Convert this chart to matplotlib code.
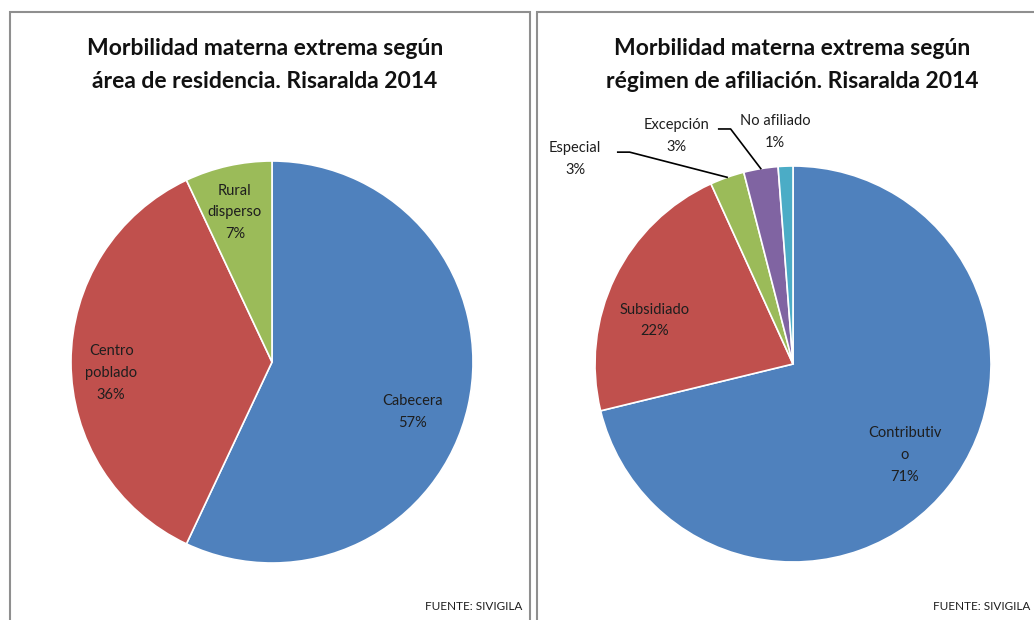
import numpy as np
import matplotlib
matplotlib.use("Agg")
from matplotlib import pyplot as plt
from matplotlib.patches import Rectangle

# data
area_labels = ["Cabecera", "Centro\npoblado", "Rural\ndisperso"]
area_values = [57, 36, 7]

regimen_labels = ["Contributiv\no", "Subsidiado", "Especial", "Excepción", "No afiliado"]
regimen_values = [178, 55, 7, 7, 3]

title_left = "Morbilidad materna extrema según\nárea de residencia. Risaralda 2014"
title_right = "Morbilidad materna extrema según\nrégimen de afiliación. Risaralda 2014"
source_text = "FUENTE: SIVIGILA"

# layout: label anchor points in pie-radius units
area_label_pos = [(0.70, -0.25), (-0.80, -0.055), (-0.185, 0.745)]
regimen_label_pos = [(0.565, -0.46), (-0.70, 0.22), (-1.10, 1.035),
                     (-0.59, 1.152), (-0.09, 1.172)]
leader_off = {2: 0.215, 3: 0.215}

COLORS = ["#4F81BD", "#C0504D", "#9BBB59", "#8064A2", "#4BACC6"]
TXT = "#1e1e1e"
W, H = 1034, 620
LBL = dict(fontsize=10.5, color=TXT, linespacing=1.7, ha="center", va="center")

plt.rcParams["font.family"] = ["Lato", "DejaVu Sans"]
fig = plt.figure(figsize=(W / 100, H / 100), dpi=100)

# panel frames (pixel coords -> figure fraction)
def px_rect(x0, y0, x1, y1):
    return Rectangle((x0 / W, 1 - y1 / H), (x1 - x0) / W, (y1 - y0) / H,
                     transform=fig.transFigure, fill=False,
                     edgecolor="#8f8f8f", lw=1.5)

fig.patches.append(px_rect(10, 12, 530, 640))
fig.patches.append(px_rect(537, 12, 1060, 640))


def pie_axes(cx, cy, r):
    return fig.add_axes([(cx - r) / W, 1 - (cy + r) / H, 2 * r / W, 2 * r / H])


def draw_pie(ax, values):
    wedges, _ = ax.pie(values, colors=COLORS[:len(values)], startangle=90,
                       counterclock=False, radius=1,
                       wedgeprops=dict(edgecolor="white", linewidth=1.2))
    ax.set_xlim(-1, 1)
    ax.set_ylim(-1, 1)
    ax.set_aspect("equal")
    ax.axis("off")
    return wedges


def pct(v, vals):
    return f"{round(100 * v / sum(vals)):.0f}%"


def mid_dir(w):
    a = np.deg2rad((w.theta1 + w.theta2) / 2)
    return np.cos(a), np.sin(a)


# left pie
axl = pie_axes(272, 362, 201)
wl = draw_pie(axl, area_values)
for (tx, ty), lab, v in zip(area_label_pos, area_labels, area_values):
    axl.text(tx, ty, f"{lab}\n{pct(v, area_values)}", **LBL)

# right pie
axr = pie_axes(793, 364, 198)
wr = draw_pie(axr, regimen_values)
for i, (w, lab, v) in enumerate(zip(wr, regimen_labels, regimen_values)):
    tx, ty = regimen_label_pos[i]
    axr.text(tx, ty, f"{lab}\n{pct(v, regimen_values)}", clip_on=False, **LBL)
    if i in leader_off:
        dx, dy = mid_dir(w)
        sx, sy = tx + leader_off[i], ty + 0.035
        axr.plot([sx, sx + 0.06, dx], [sy, sy, dy],
                 color="black", lw=1.2, clip_on=False)

# titles and source
for x, t in [(265, title_left), (792, title_right)]:
    fig.text(x / W, 1 - 65 / H, t, ha="center", va="center", fontsize=16.5,
             fontweight="bold", color="#111111", linespacing=1.7)

for x in [522, 1030]:
    fig.text(x / W, 1 - 607 / H, source_text, ha="right", va="center",
             fontsize=8.5, color=TXT)

fig.savefig("out.png", dpi=100)
